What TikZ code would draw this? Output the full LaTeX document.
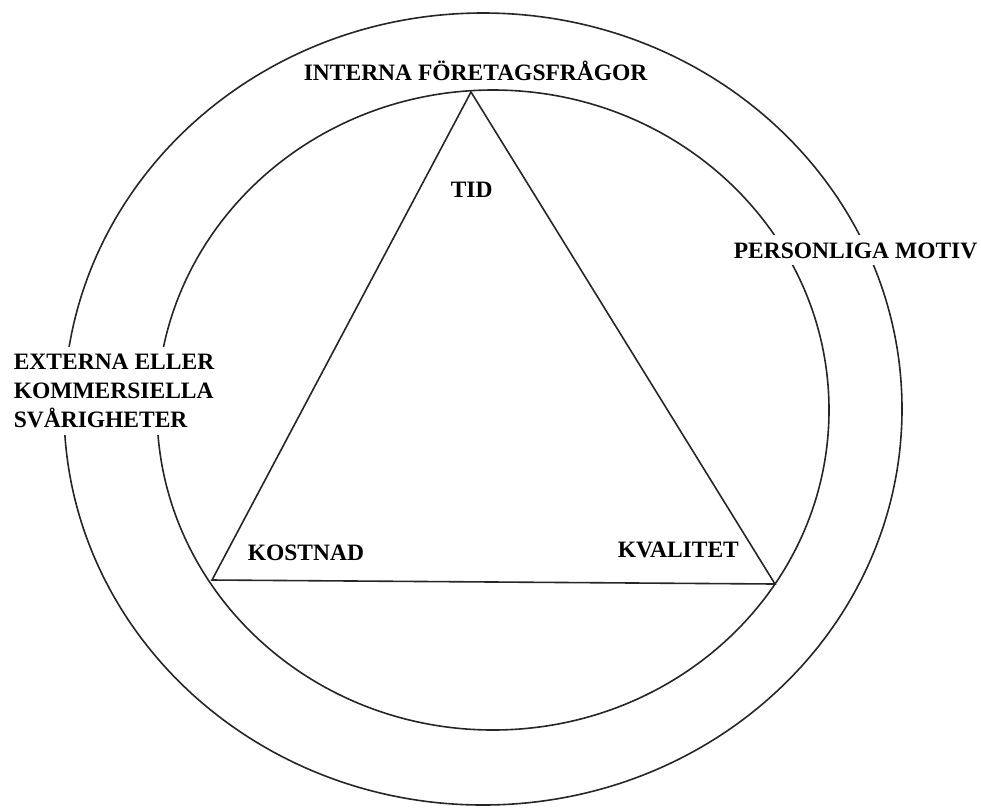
\documentclass[tikz,border=0pt]{standalone}
\usepackage{fontspec}
\setmainfont{Liberation Serif}
\usetikzlibrary{positioning, calc}

\begin{document}
\begin{tikzpicture}[x=1pt, y=-1pt, line width=1.6pt, draw=black!85,
        lbl/.style={font=\fontsize{23.5}{29}\selectfont\bfseries, fill=white, inner xsep=2pt, inner ysep=7pt, anchor=base west}]
        \useasboundingbox (0,0) rectangle (981,807);
        % Outer and inner rings
        \draw (483,409) ellipse [x radius=419, y radius=396];
        \draw (493,410) ellipse [x radius=336, y radius=320];

        % Triangle (corners)
        \coordinate (top) at (471,92);
        \coordinate (left) at (212,580);
        \coordinate (right) at (775,584);
        \draw (top) -- (left) -- (right) -- cycle;

        % Ring labels (they cover the rings)
        \node[lbl] (interna) at (301,80) {INTERNA FÖRETAGSFRÅGOR};
        \node[lbl] (personliga) at (731,258) {PERSONLIGA MOTIV};
        \node[lbl, anchor=north west, align=left] (externa) at (11,346) {EXTERNA ELLER\\KOMMERSIELLA\\SVÅRIGHETER};

        % Triangle labels
        \node[lbl] (tid) at (448,197) {TID};
        \node[lbl] (kostnad) at (245,560) {KOSTNAD};
        \node[lbl] (kvalitet) at (615,557) {KVALITET};
    \end{tikzpicture}
\end{document}
